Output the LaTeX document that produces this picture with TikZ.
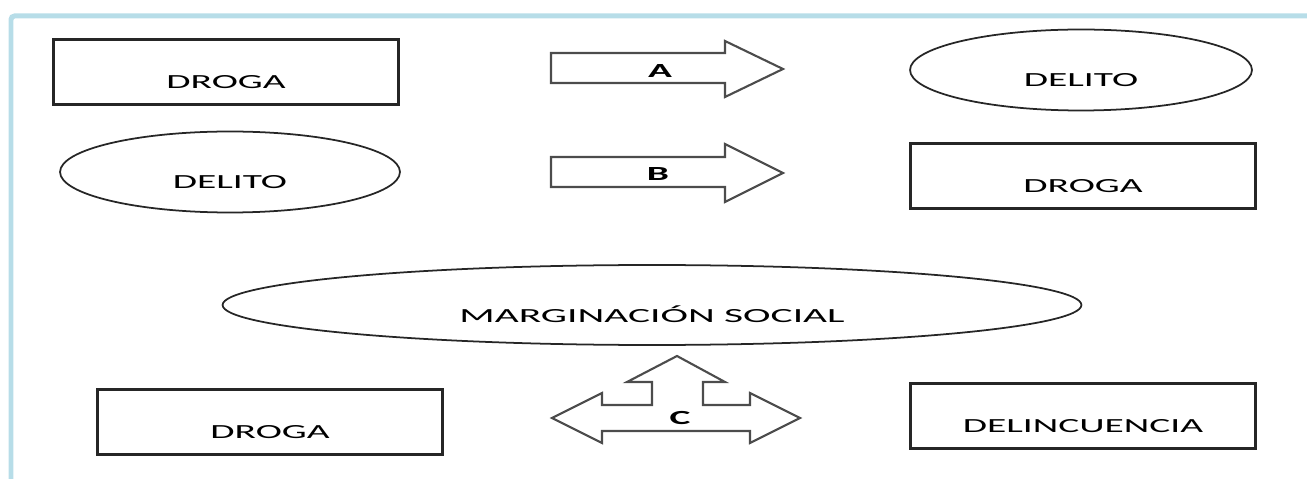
\documentclass[tikz,border=0pt]{standalone}
\usepackage{fontspec}
\setmainfont{Carlito}
\usepackage{graphicx}
\usepackage{tikz}
\usetikzlibrary{shapes.geometric,calc}
\definecolor{framecol}{RGB}{183,221,232}
\newcommand{\wtxt}[2][1.97]{\scalebox{#1}[1]{#2}}

\begin{document}
\begin{tikzpicture}
[x=0.02cm,y=-0.02cm,
box/.style={draw=black!85,line width=1.3pt,rectangle,minimum width=6.9cm,minimum height=1.3cm,
text height=0.66cm,text depth=0pt,font=\fontsize{11.4}{13}\selectfont},
oval/.style={draw=black!85,line width=1pt,ellipse,minimum width=6.8cm,minimum height=1.62cm,
text height=0.66cm,text depth=0pt,font=\fontsize{11.4}{13}\selectfont},
blockarrow/.style={draw=black!70,line width=1.2pt,line join=miter,fill=white},
lbl/.style={font=\fontsize{11.4}{13}\selectfont}]
\useasboundingbox (0,0) rectangle (1307,479);
\draw[framecol,line width=0.1cm,rounded corners=2pt] (11,479) -- (11,16) -- (1307,16);

\node (droga1) at (226,72) [box] {\wtxt{DROGA}};
\node (delito1) at (230,172) [oval] {\wtxt{DELITO}};
\node (delito2) at (1081,70) [oval,minimum width=6.84cm] {\wtxt{DELITO}};
\node (droga2) at (1083,176) [box] {\wtxt{DROGA}};
\node (margin) at (652,305) [oval,minimum width=17.18cm,minimum height=1.6cm,text height=0.7cm] {\wtxt[2.07]{MARGINACIÓN SOCIAL}};
\node (droga3) at (270,422) [box] {\wtxt{DROGA}};
\node (delinc) at (1083,416) [box] {\wtxt{DELINCUENCIA}};

% flechas A y B
\draw[blockarrow] (551,53) -- (725,53) -- (725,41) -- (783,69) -- (725,97) -- (725,83) -- (551,83) -- cycle;
\node (a) at (660,71) [lbl] {\wtxt{\bfseries A}};
\draw[blockarrow] (551,157) -- (725,157) -- (725,144) -- (783,173) -- (725,202) -- (725,187) -- (551,187) -- cycle;
\node (b) at (658,174) [lbl] {\wtxt{\bfseries B}};

% flecha triple C
\draw[blockarrow] (552,418) -- (602,393) -- (602,405) -- (652,405) -- (652,382) -- (627,382)
 -- (677,356) -- (725,382) -- (703,382) -- (703,405) -- (750,405) -- (750,393) -- (800,418)
 -- (750,443) -- (750,431) -- (602,431) -- (602,443) -- cycle;
\node (c) at (680,418) [lbl] {\wtxt{\bfseries C}};

\end{tikzpicture}
\end{document}
